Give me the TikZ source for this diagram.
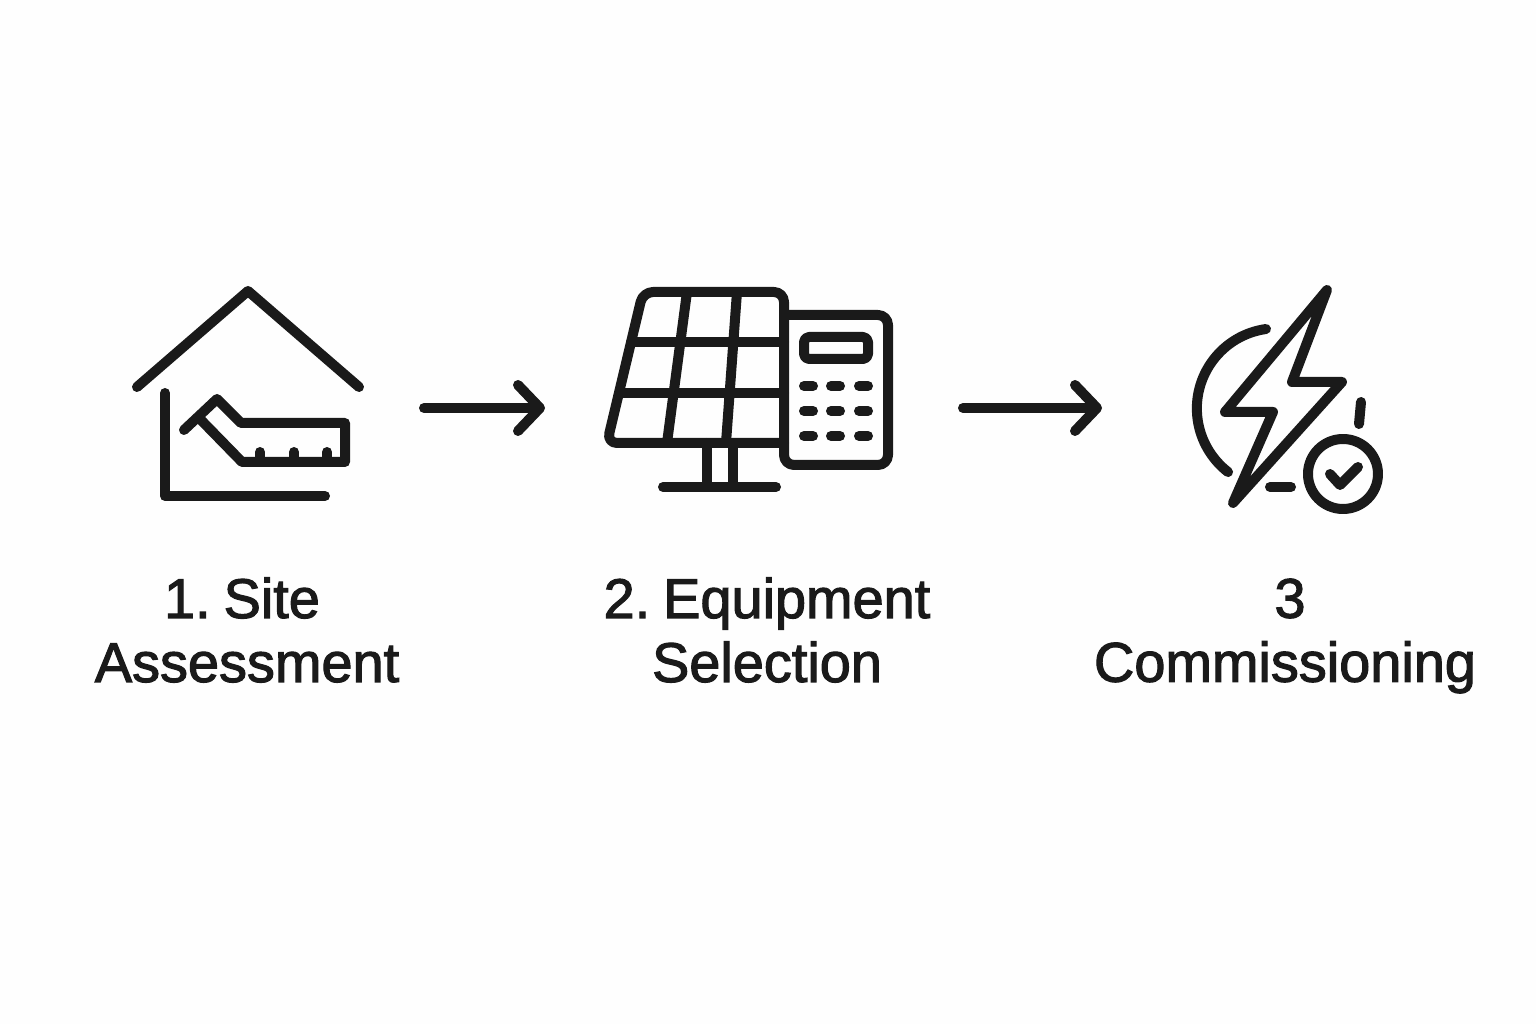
\documentclass[tikz,border=0pt]{standalone}
\usepackage{xcolor}
\usepackage{fontspec}
\setmainfont[FakeBold=2,WordSpace=0.5]{Liberation Sans}
\usetikzlibrary{positioning,arrows.meta}
\definecolor{ink}{RGB}{26,26,26}
\definecolor{paper}{RGB}{254,254,254}
\tikzset{
    iconbox/.style={minimum height=2.2cm, inner sep=0pt, outer sep=0pt},
    stepname/.style={font=\fontsize{15.9}{18.2}\selectfont, align=center, text=ink},
    outline/.style={draw=ink, line width=1mm, line cap=round, line join=round},
    flow/.style={outline, -{Straight Barb[round,length=2.2mm,width=4.6mm]}}
}
\begin{document}
\begin{tikzpicture}[x=0.1mm, y=-0.1mm]
\useasboundingbox[fill=paper] (0,0) rectangle (1536,1024);
% Boxes holding the three icons
\node[iconbox, minimum width=3.52cm] (site) at (248,408) {};
\node[iconbox, minimum width=4.18cm] (equip) at (754,408) {};
\node[iconbox, minimum width=3.76cm] (comm) at (1290,408) {};
% Labels
\node[stepname] (sitename) at (247,630) {1. Site\hspace*{1mm}\\Assessment};
\node[stepname] (equipname) at (767,630) {2. Equipment\\Selection};
\node[stepname] (commname) at (1285,636) {\hspace*{1mm}3\\Commissioning};
% Connections
\draw[flow] (site.east) -- (equip.west);
\draw[flow] (equip.east) -- (comm.west);
% House and ruler
\draw[outline] (137,387) -- (248,291) -- (359,387);
\draw[outline] (165,393) -- (165,496) -- (325,496);
\draw[outline] (184,430) -- (217,399) -- (241,423) -- (345,423) -- (345,462) -- (242,462) -- (201,420);
\foreach \x in {260,294,327} {
    \draw[outline] (\x,452) -- (\x,462);
}
% Solar panel
\draw[outline, rounded corners=1mm] (784,443) -- (607,443) -- (643,292) -- (784,292) -- (784,443);
\draw[outline] (631,342) -- (784,342);
\draw[outline] (619,393) -- (784,393);
\draw[outline] (687,292) -- (667,443);
\draw[outline] (737,292) -- (726,443);
\draw[outline] (707,443) -- (707,487);
\draw[outline] (733,443) -- (733,487);
\draw[outline] (663,487) -- (776,487);
% Calculator
\draw[outline, rounded corners=1mm] (784,315) -- (888,315) -- (888,465) -- (784,465) -- (784,443);
\draw[outline, rounded corners=0.5mm] (804,337) rectangle (868,359);
\foreach \y in {386,411,436} {
    \foreach \x in {804,831,859} {
        \draw[outline] (\x,\y) -- ++(9,0);
    }
}
% Lightning bolt and check mark
\draw[outline] (1327,290) -- (1292,382) -- (1342,382) -- (1233,503) -- (1273,412) -- (1225,412) -- cycle;
\draw[outline] (1266,329) arc[start angle=262, end angle=127.7, radius=80.3];
\draw[outline] (1361,402) -- (1359,424);
\draw[outline] (1270,487) -- (1291,487);
\draw[outline] (1343,474) circle (35);
\draw[outline] (1330,474) -- (1340,485) -- (1358,467);
\end{tikzpicture}
\end{document}
